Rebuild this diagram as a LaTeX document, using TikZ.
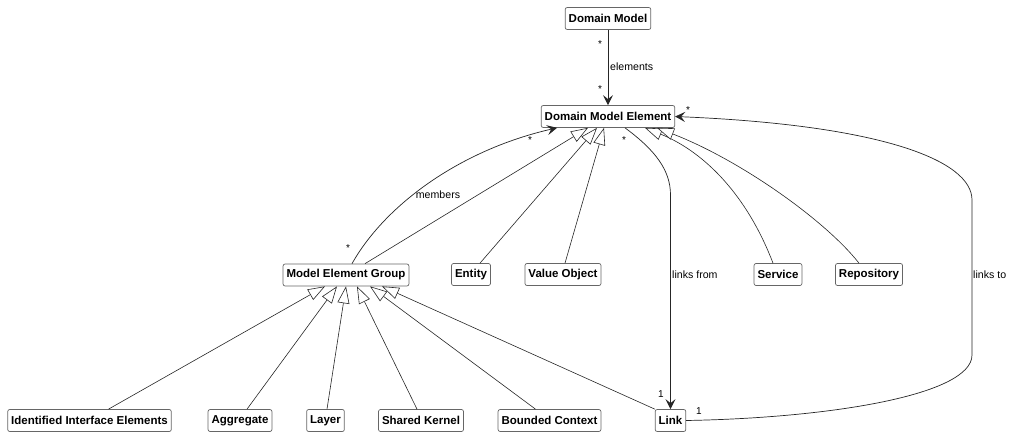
\documentclass[tikz,border=0pt]{standalone}
\usepackage{fontspec}
\setmainfont{Liberation Sans}
\usepackage{tikz}
\usetikzlibrary{shapes,arrows.meta,positioning,calc}

\begin{document}
\begin{tikzpicture}[x=1pt,y=-1pt,
  cls/.style={draw=black!60,fill=white,rounded corners=2pt,line width=0.7pt,
    font=\fontsize{11.5}{13}\selectfont\bfseries,minimum height=22pt,inner xsep=3.5pt,inner ysep=0pt},
  lbl/.style={font=\fontsize{10.6}{12}\selectfont,inner sep=0pt},
  mult/.style={font=\fontsize{10}{11}\selectfont,inner sep=0pt},
  assoc/.style={draw=black!85,line width=0.7pt,-{Stealth[length=10pt,width=10pt,inset=4pt]}},
  inherit/.style={draw=black!85,line width=0.6pt,-{Triangle[open,length=17pt,width=12pt,fill=white]}}]
\useasboundingbox (0,0) rectangle (1013,436);

% Classes
\node[cls] (dm) at (608,18.5) {Domain Model};
\node[cls] (dme) at (608,116.5) {Domain Model Element};

\node[cls] (meg) at (346,275) {Model Element Group};
\node[cls] (entity) at (471,274.5) {Entity};
\node[cls] (vo) at (563,274.5) {Value Object};
\node[cls] (service) at (778,274.5) {Service};
\node[cls] (repo) at (869,274.5) {Repository};

\node[cls] (iie) at (89.5,420.5) {Identified Interface Elements};
\node[cls] (aggr) at (240,420.5) {Aggregate};
\node[cls] (layer) at (325.5,420.5) {Layer};
\node[cls] (sk) at (421,420.5) {Shared Kernel};
\node[cls] (bc) at (549.5,420.5) {Bounded Context};
\node[cls] (link) at (670.5,420.5) {Link};

% Associations
\draw[assoc] (dm) -- (dme);
\draw[assoc] ([xshift=6pt]meg.north) .. controls (385,205) and (460,150) .. ([xshift=-51pt]dme.south);
\draw[assoc] ([xshift=17pt]dme.south) .. controls (655,150) and (670.5,170) .. (670.5,195) -- (link.north);
\draw[assoc] (link.east) .. controls (830,418) and (972,395) .. (972,355) -- (972,200)
  .. controls (972,160) and (880,125) .. (dme.east);

% Generalizations to Domain Model Element
\draw[inherit] ([xshift=19pt]meg.north) -- ([xshift=-20pt]dme.south);
\draw[inherit] ([xshift=9pt]entity.north) -- ([xshift=-11pt]dme.south);
\draw[inherit] ([xshift=2pt]vo.north) -- ([xshift=-4pt]dme.south);
\draw[inherit] ([xshift=-5pt]service.north) .. controls (745,190) and (700,150) .. ([xshift=37pt]dme.south);
\draw[inherit] ([xshift=-10pt]repo.north) .. controls (825,220) and (740,160) .. ([xshift=49pt]dme.south);

% Generalizations to Model Element Group
\draw[inherit] ([xshift=19pt]iie.north) -- ([xshift=-21pt]meg.south);
\draw[inherit] ([xshift=7pt]aggr.north) -- ([xshift=-9pt]meg.south);
\draw[inherit] ([xshift=1.5pt]layer.north) -- ([xshift=0pt]meg.south);
\draw[inherit] ([xshift=-4pt]sk.north) -- ([xshift=11pt]meg.south);
\draw[inherit] ([xshift=-14pt]bc.north) -- ([xshift=24pt]meg.south);
\draw[inherit] (link.north west) -- ([xshift=36pt]meg.south);

% Role names
\node[lbl,anchor=west] (l-elements) at (610,67) {elements};
\node[lbl] (l-members) at (438,195) {members};
\node[lbl,anchor=west] (l-linksfrom) at (672,275) {links from};
\node[lbl,anchor=west] (l-linksto) at (973,275) {links to};

% Multiplicities
\node[mult] (m1) at (600,44) {*};
\node[mult] (m2) at (600,89) {*};
\node[mult] (m3) at (688,110) {*};
\node[mult] (m4) at (624,140) {*};
\node[mult] (m5) at (530,140) {*};
\node[mult] (m6) at (348,248) {*};
\node[mult] (m7) at (661,394) {1};
\node[mult] (m8) at (699,411) {1};

\end{tikzpicture}
\end{document}
